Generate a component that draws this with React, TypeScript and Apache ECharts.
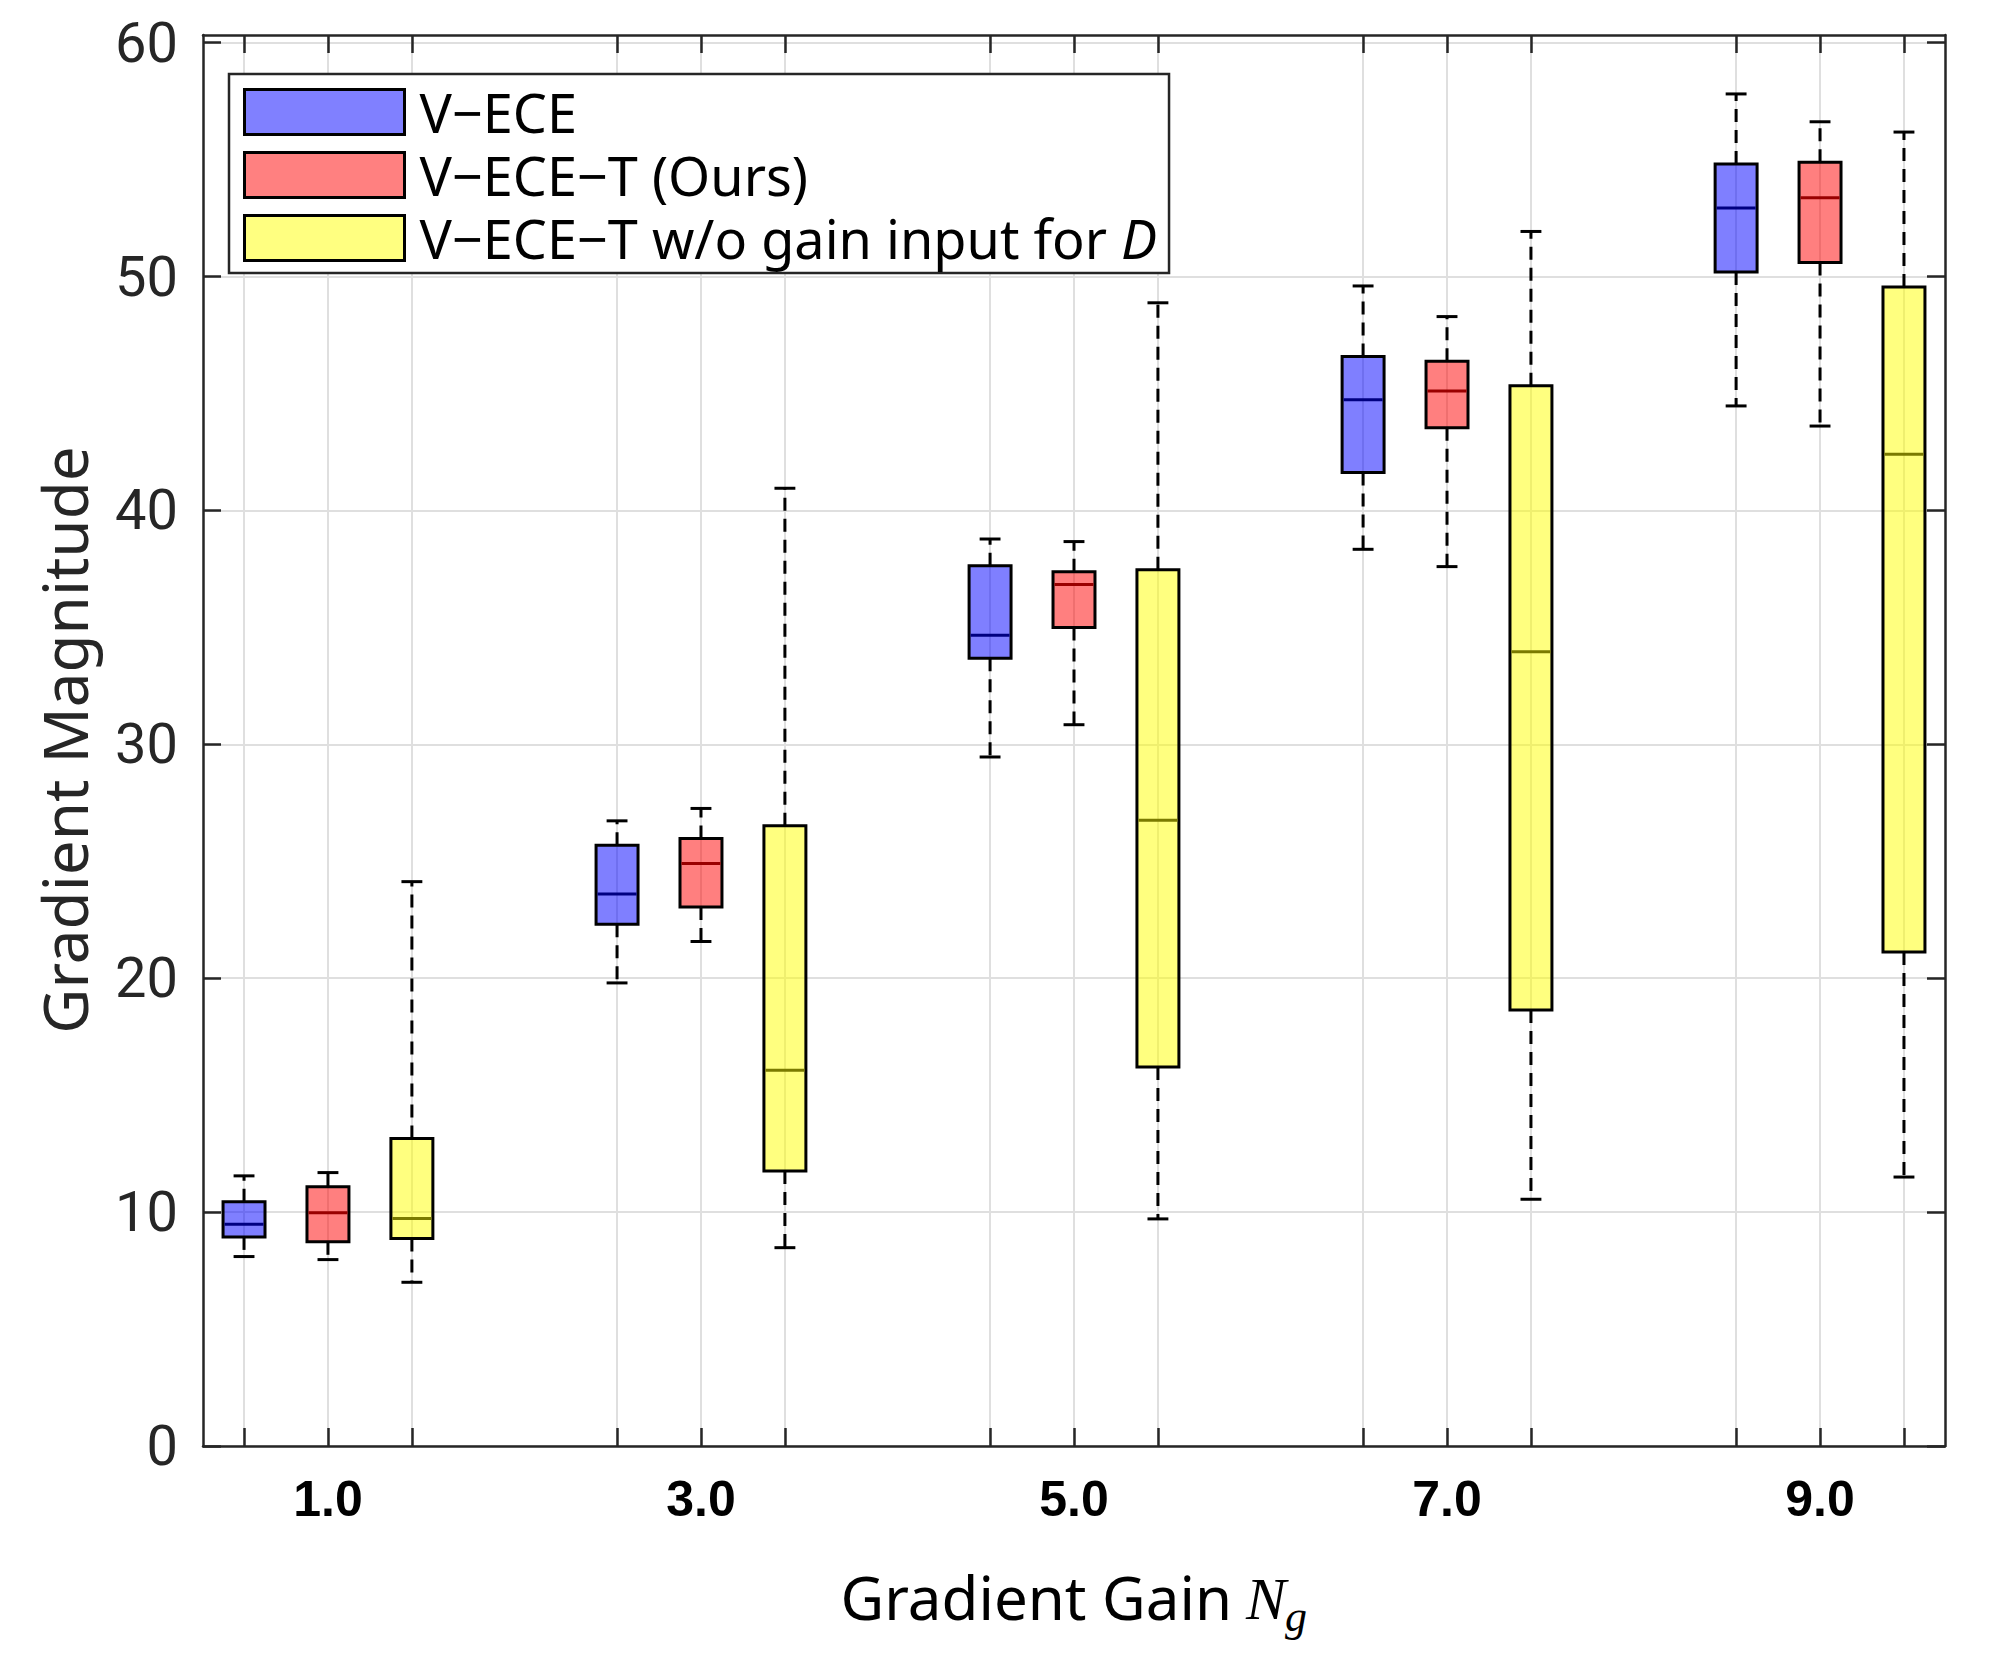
import React, { useEffect, useRef } from "react";
import * as echarts from "echarts";

// Gradient gains on the x axis and their printed labels
const gains = [1, 3, 5, 7, 9];
const gainLabels = ["1.0", "3.0", "5.0", "7.0", "9.0"];
const yTicks = [0, 10, 20, 30, 40, 50, 60];

// Box offsets around each gain for the three methods
const offsets = [-0.45, 0, 0.45];

// Five-number summaries per gain: [lower whisker, Q1, median, Q3, upper whisker]
const vEce = [
  [8.1, 8.94, 9.48, 10.44, 11.55],
  [19.8, 22.31, 23.6, 25.69, 26.73],
  [29.46, 33.68, 34.66, 37.64, 38.78],
  [38.34, 41.62, 44.73, 46.58, 49.6],
  [44.47, 50.2, 52.93, 54.81, 57.81],
];
const vEceT = [
  [7.97, 8.73, 9.97, 11.08, 11.69],
  [21.57, 23.05, 24.91, 25.98, 27.26],
  [30.84, 35.0, 36.84, 37.38, 38.67],
  [37.6, 43.54, 45.11, 46.38, 48.29],
  [43.61, 50.6, 53.37, 54.89, 56.62],
];
const vEceTNoGain = [
  [7.0, 8.87, 9.73, 13.15, 24.13],
  [8.48, 11.76, 16.07, 26.52, 40.95],
  [9.71, 16.2, 26.75, 37.47, 48.88],
  [10.55, 18.64, 33.96, 45.33, 51.93],
  [11.5, 21.12, 42.4, 49.55, 56.18],
];

const seriesNames = [
  "V\u2212ECE",
  "V\u2212ECE\u2212T (Ours)",
  "V\u2212ECE\u2212T w/o gain input for D",
];
const summaries = [vEce, vEceT, vEceTNoGain];

const boxFills = ["rgba(0,0,255,0.5)", "rgba(255,0,0,0.5)", "rgba(255,255,0,0.5)"];
const legendFills = ["#8080ff", "#ff8080", "#ffff80"];
const medianColors = ["#000080", "#990000", "#7a7a00"];

const BOX_WIDTH = 0.225;
const CAP_WIDTH = 0.112;
const AXIS_COLOR = "#262626";

const tickPositions = gains.flatMap((g) => offsets.map((o) => +(g + o).toFixed(2)));

function makeRenderer(fill: string, medianColor: string) {
  return (_params: any, api: any) => {
    const x = api.value(0);
    const [cx, yLo] = api.coord([x, api.value(1)]);
    const yQ1 = api.coord([x, api.value(2)])[1];
    const yMed = api.coord([x, api.value(3)])[1];
    const yQ3 = api.coord([x, api.value(4)])[1];
    const yHi = api.coord([x, api.value(5)])[1];
    const half = api.size([BOX_WIDTH, 0])[0] / 2;
    const capHalf = api.size([CAP_WIDTH, 0])[0] / 2;
    const whisker = { stroke: "#000", lineWidth: 3, lineDash: [13, 8] };
    const cap = { stroke: "#000", lineWidth: 3 };
    return {
      type: "group",
      children: [
        { type: "line", shape: { x1: cx, y1: yQ3, x2: cx, y2: yHi }, style: whisker },
        { type: "line", shape: { x1: cx, y1: yQ1, x2: cx, y2: yLo }, style: whisker },
        { type: "line", shape: { x1: cx - capHalf, y1: yHi, x2: cx + capHalf, y2: yHi }, style: cap },
        { type: "line", shape: { x1: cx - capHalf, y1: yLo, x2: cx + capHalf, y2: yLo }, style: cap },
        {
          type: "rect",
          shape: { x: cx - half, y: yQ3, width: half * 2, height: yQ1 - yQ3 },
          style: { fill, stroke: "#000", lineWidth: 3 },
        },
        {
          type: "line",
          shape: { x1: cx - half + 1.5, y1: yMed, x2: cx + half - 1.5, y2: yMed },
          style: { stroke: medianColor, lineWidth: 3 },
        },
      ],
    };
  };
}

export default function App() {
  const ref = useRef<HTMLDivElement>(null);

  useEffect(() => {
    if (!ref.current) return;
    document.body.style.margin = "0";
    const chart = echarts.init(ref.current, null, { renderer: "svg" });

    const series = summaries.map((rows, si) => ({
      name: seriesNames[si],
      type: "custom",
      xAxisIndex: 0,
      yAxisIndex: 0,
      clip: true,
      encode: { x: 0, y: [1, 2, 3, 4, 5] },
      data: rows.map((r, gi) => [gains[gi] + offsets[si], ...r]),
      renderItem: makeRenderer(boxFills[si], medianColors[si]),
      z: 3,
    }));

    const frameLine = { show: true, onZero: false, lineStyle: { color: AXIS_COLOR, width: 2.5 } };
    const tickStyle = { color: AXIS_COLOR, width: 2.5 };

    chart.setOption({
      animation: false,
      backgroundColor: "#ffffff",
      grid: { left: 203, right: 49, top: 35, bottom: 216, containLabel: false },
      xAxis: [
        {
          type: "value",
          position: "bottom",
          min: 0.33,
          max: 9.67,
          axisLine: frameLine,
          axisTick: { show: true, inside: true, length: 18, customValues: tickPositions, lineStyle: tickStyle },
          axisLabel: {
            customValues: gains,
            formatter: (v: number) => {
              const i = gains.indexOf(v);
              return i >= 0 ? gainLabels[i] : "";
            },
            margin: 28,
            fontFamily: "Liberation Sans",
            fontWeight: "bold",
            fontSize: 50,
            color: "#000",
          },
          splitLine: { show: true, lineStyle: { color: "#dfdfdf", width: 2 } },
        },
        {
          type: "value",
          position: "top",
          min: 0.33,
          max: 9.67,
          axisLine: frameLine,
          axisTick: { show: true, inside: true, length: 18, customValues: tickPositions, lineStyle: tickStyle },
          axisLabel: { show: false },
          splitLine: { show: false },
        },
      ],
      yAxis: [
        {
          type: "value",
          position: "left",
          min: 0,
          max: 60.33,
          axisLine: frameLine,
          axisTick: { show: true, inside: true, length: 18, customValues: yTicks, lineStyle: tickStyle },
          axisLabel: {
            customValues: yTicks,
            margin: 25,
            fontFamily: "Roboto",
            fontSize: 56,
            color: AXIS_COLOR,
          },
          splitLine: { show: true, lineStyle: { color: "#dfdfdf", width: 2 } },
        },
        {
          type: "value",
          position: "right",
          min: 0,
          max: 60.33,
          axisLine: frameLine,
          axisTick: { show: true, inside: true, length: 18, customValues: yTicks, lineStyle: tickStyle },
          axisLabel: { show: false },
          splitLine: { show: false },
        },
      ],
      legend: {
        orient: "vertical",
        left: 229,
        top: 74,
        selectedMode: false,
        backgroundColor: "#ffffff",
        borderColor: AXIS_COLOR,
        borderWidth: 2.5,
        padding: [11, 12, 8, 14],
        itemWidth: 160,
        itemHeight: 45,
        itemGap: 9,
        data: seriesNames.map((n, i) => ({
          name: n,
          icon: "rect",
          itemStyle: { color: legendFills[i], borderColor: "#000", borderWidth: 3 },
        })),
        formatter: (name: string) =>
          name === seriesNames[2] ? "{n|V\u2212ECE\u2212T w/o gain input for }{i|D}" : "{n|" + name + "}",
        textStyle: {
          fontFamily: "Noto Sans",
          fontSize: 54,
          color: "#000",
          padding: [0, 0, 0, 10],
          rich: {
            n: { fontFamily: "Noto Sans", fontSize: 54, color: "#000" },
            i: { fontFamily: "Noto Sans", fontSize: 54, color: "#000", fontStyle: "italic" },
          },
        },
        z: 10,
      },
      graphic: [
        {
          type: "text",
          x: 64,
          y: 740,
          rotation: Math.PI / 2,
          style: {
            text: "Gradient Magnitude",
            fontFamily: "Noto Sans",
            fontSize: 62,
            fill: AXIS_COLOR,
            align: "center",
            verticalAlign: "middle",
          },
        },
        {
          type: "text",
          x: 1232,
          y: 1597,
          style: {
            text: "Gradient Gain",
            fontFamily: "Noto Sans",
            fontSize: 60,
            fill: "#000",
            align: "right",
            verticalAlign: "middle",
          },
        },
        {
          type: "text",
          x: 1246,
          y: 1599,
          style: {
            text: "N",
            fontFamily: "Liberation Serif",
            fontStyle: "italic",
            fontSize: 60,
            fill: "#000",
            align: "left",
            verticalAlign: "middle",
          },
        },
        {
          type: "text",
          x: 1285,
          y: 1616,
          style: {
            text: "g",
            fontFamily: "Liberation Serif",
            fontStyle: "italic",
            fontSize: 44,
            fill: "#000",
            align: "left",
            verticalAlign: "middle",
          },
        },
      ],
      series,
    });

    return () => chart.dispose();
  }, []);

  return (
    <div
      ref={ref}
      style={{ position: "fixed", left: 0, top: 0, width: 1994, height: 1662, background: "#fff" }}
    />
  );
}
